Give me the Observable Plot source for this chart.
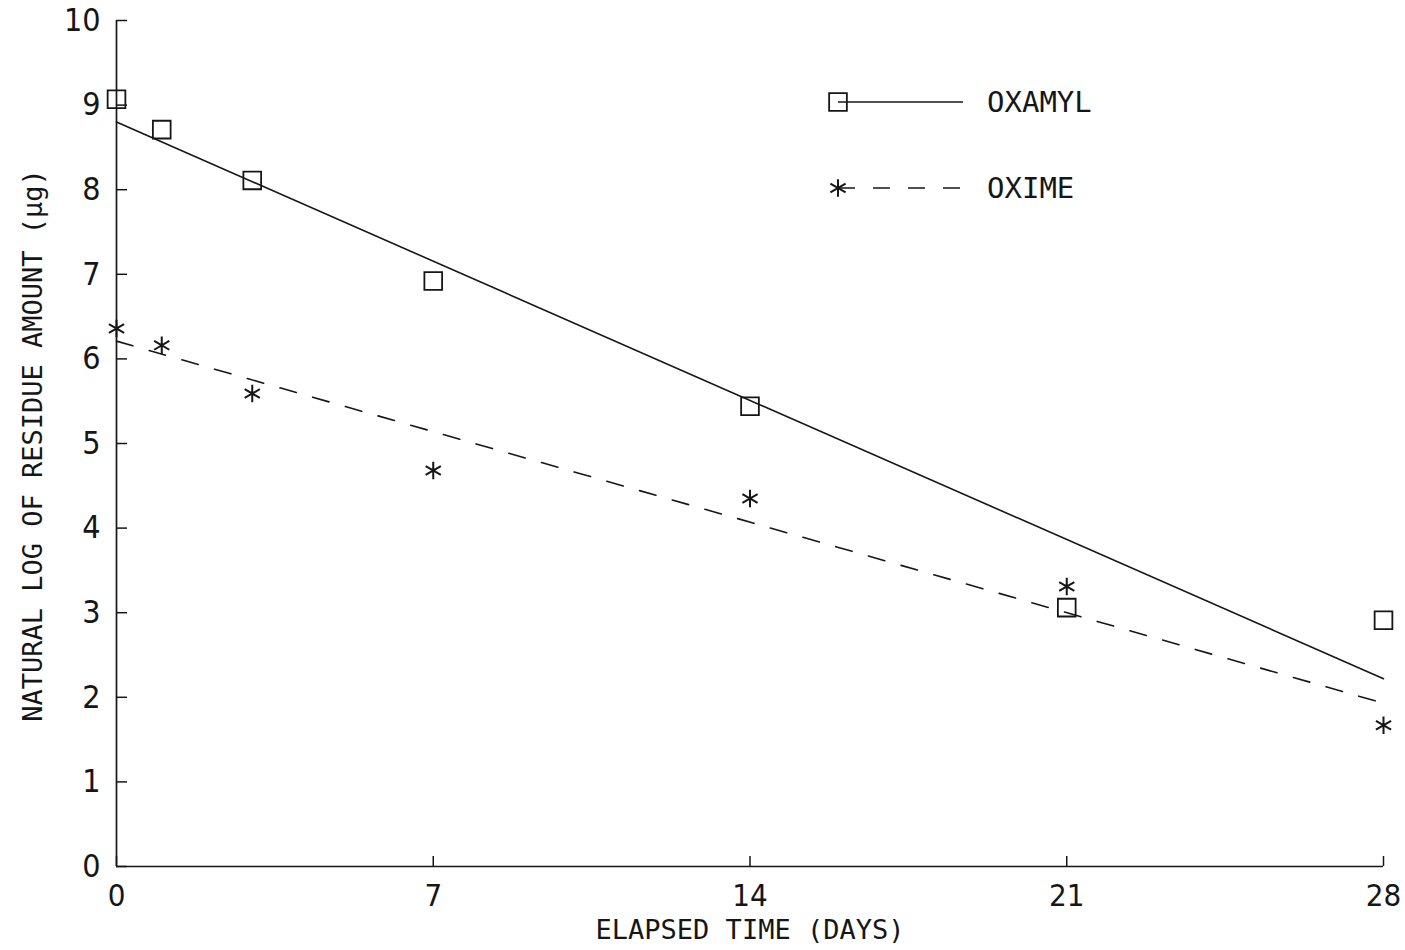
<!DOCTYPE html>
<html><head><meta charset="utf-8">
<script src="https://cdn.jsdelivr.net/npm/d3@7"></script>
<script src="https://cdn.jsdelivr.net/npm/@observablehq/plot@0.6"></script>
<style>
body{margin:0;background:#fff;}
#chart{position:relative;width:1405px;height:950px;}
</style></head><body><div id="chart"></div>
<script>
// ---- data ----
const days = [0, 1, 3, 7, 14, 21, 28];
const oxamyl = [9.07, 8.71, 8.11, 6.92, 5.44, 3.06, 2.91];
const oxime = [6.36, 6.16, 5.59, 4.68, 4.35, 3.31, 1.67];
const fitDays = [0, 28];
const oxamylFit = [8.80, 2.22];
const oximeFit = [6.21, 1.93];
const xTicks = [0, 7, 14, 21, 28];
const yTicks = [0, 1, 2, 3, 4, 5, 6, 7, 8, 9, 10];
const xLabel = "ELAPSED TIME (DAYS)";
const yLabel = "NATURAL LOG OF RESIDUE AMOUNT (μg)";
const seriesNames = ["OXAMYL", "OXIME"];

// ---- styling ----
const ink = "#161616";
const digitFont = '"Liberation Sans Narrow","DejaVu Sans Condensed","Noto Sans",sans-serif';
const textFont = '"DejaVu Sans Mono",monospace';
const pts = ys => days.map((d, i) => ({x: d, y: ys[i]}));
const fit = ys => fitDays.map((d, i) => ({x: d, y: ys[i]}));

const chart = Plot.plot({
  width: 1405, height: 950,
  marginLeft: 116, marginRight: 22, marginTop: 20, marginBottom: 84,
  style: {background: "#fff", color: ink, fontFamily: digitFont, fontSize: "32px"},
  x: {domain: [0, 28]},
  y: {domain: [0, 10]},
  marks: [
    Plot.ruleX([0], {stroke: ink, strokeWidth: 1.7}),
    Plot.ruleY([0], {stroke: ink, strokeWidth: 1.7}),
    Plot.axisX({ticks: xTicks, tickSize: -10, tickPadding: 27, label: null, stroke: ink, strokeWidth: 1.5, fontSize: 31, fontFamily: digitFont, fill: ink}),
    Plot.axisY({ticks: yTicks, tickSize: -11, tickPadding: 27, label: null, stroke: ink, strokeWidth: 1.5, fontSize: 32, fontFamily: digitFont, fill: ink}),
    Plot.line(fit(oxamylFit), {x: "x", y: "y", stroke: ink, strokeWidth: 1.6}),
    Plot.line(fit(oximeFit), {x: "x", y: "y", stroke: ink, strokeWidth: 1.6, strokeDasharray: "17,17"}),
    Plot.dot(pts(oxamyl), {x: "x", y: "y", symbol: "square", r: 10, stroke: ink, strokeWidth: 1.8, fill: "none"}),
    Plot.dot(pts(oxime), {x: "x", y: "y", symbol: "asterisk", r: 8.3, stroke: ink, strokeWidth: 2}),
    Plot.text([xLabel], {frameAnchor: "bottom", dy: 64, lineAnchor: "middle", textAnchor: "middle", fontFamily: textFont, fontSize: 27, fill: ink}),
    Plot.text([yLabel], {frameAnchor: "left", dx: -83, dy: 2, rotate: -90, lineAnchor: "middle", textAnchor: "middle", fontFamily: textFont, fontSize: 27, fill: ink})
  ]
});
document.getElementById("chart").appendChild(chart);

// ---- legend (inside the plot area, top right) ----
const svg = d3.select(chart);
const legend = [
  {name: seriesNames[0], symbol: d3.symbolSquare, size: 10 * 10 * Math.PI, dash: null, y: 102},
  {name: seriesNames[1], symbol: d3.symbolAsterisk, size: 8.3 * 8.3 * Math.PI, dash: "17,18", y: 188}
];
const lg = svg.append("g").attr("class", "legend");
legend.forEach(e => {
  const g = lg.append("g").attr("transform", `translate(838,${e.y})`);
  g.append("line").attr("x1", 0).attr("x2", 125).attr("y1", 0).attr("y2", 0)
    .attr("stroke", ink).attr("stroke-width", 1.6).attr("stroke-dasharray", e.dash);
  g.append("path").attr("d", d3.symbol(e.symbol, e.size)())
    .attr("fill", "none").attr("stroke", ink).attr("stroke-width", e.dash ? 2 : 1.8);
  g.append("text").attr("x", 149).attr("y", 0).attr("dy", "0.36em")
    .attr("text-anchor", "start")
    .attr("font-family", textFont).attr("font-size", 29).attr("fill", ink).text(e.name);
});
</script></body></html>
